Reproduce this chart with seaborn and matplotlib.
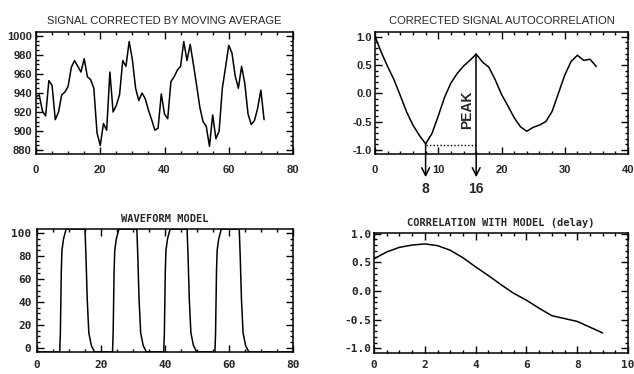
import matplotlib
matplotlib.use('Agg')
import matplotlib.pyplot as plt
import matplotlib.transforms as mtransforms
from matplotlib.ticker import AutoMinorLocator, MultipleLocator
import seaborn as sns

# --- data ---

# signal corrected by moving average (one value per sample)
sig_t = list(range(72))
sig_val = [936, 938, 921, 916, 953, 948, 912, 920, 938, 941,
           947, 967, 974, 968, 962, 976, 957, 954, 945, 898,
           885, 908, 901, 962, 920, 927, 938, 974, 968, 994,
           975, 945, 932, 940, 934, 922, 912, 901, 903, 939,
           918, 913, 952, 957, 964, 968, 994, 974, 991, 970,
           948, 925, 910, 905, 884, 917, 892, 900, 945, 967,
           990, 982, 958, 945, 968, 950, 918, 907, 911, 924,
           943, 912]

# autocorrelation of the corrected signal
lag = list(range(36))
acorr = [1.00, 0.72, 0.47, 0.24, -0.04, -0.33, -0.56, -0.74, -0.89, -0.71,
         -0.40, -0.07, 0.18, 0.35, 0.48, 0.58, 0.69, 0.55, 0.46, 0.24,
         -0.02, -0.22, -0.43, -0.59, -0.67, -0.60, -0.56, -0.50, -0.32, 0.00,
         0.32, 0.56, 0.67, 0.58, 0.60, 0.47]
min_lag, peak_lag = 8, 16

# waveform model (edge points)
wave_x = [0,
          7.1, 7.3, 7.6, 7.8, 8.3, 9.1,
          15.0, 15.3, 15.7, 16.2, 17.0, 18.0,
          23.6, 23.8, 24.1, 24.3, 24.8, 25.6,
          31.2, 31.5, 31.9, 32.4, 33.2, 34.2,
          39.6, 39.8, 40.1, 40.3, 40.8, 41.6,
          46.9, 47.2, 47.6, 48.1, 48.9, 49.9,
          55.6, 55.8, 56.1, 56.3, 56.8, 57.6,
          63.2, 63.5, 63.9, 64.4, 65.2, 66.2,
          80]
wave_y = [-3.5,
          -3.5, 13, 68, 85, 95, 103.5,
          103.5, 80, 42, 13, 2, -3.5,
          -3.5, 13, 68, 85, 95, 103.5,
          103.5, 80, 42, 13, 2, -3.5,
          -3.5, 13, 68, 85, 95, 103.5,
          103.5, 80, 42, 13, 2, -3.5,
          -3.5, 13, 68, 85, 95, 103.5,
          103.5, 80, 42, 13, 2, -3.5,
          -3.5]

# correlation with model vs delay
delay = [0, 0.5, 1, 1.5, 2, 2.5, 3, 3.5, 4, 4.5, 5, 5.5, 6, 6.5, 7, 7.5, 8, 8.5, 9]
mcorr = [0.56, 0.68, 0.76, 0.80, 0.82, 0.79, 0.71, 0.58, 0.42, 0.27,
         0.11, -0.04, -0.16, -0.30, -0.43, -0.48, -0.53, -0.63, -0.73]

# --- style ---
sns.set_style('ticks')
plt.rcParams['font.family'] = ['Liberation Sans', 'DejaVu Sans']
plt.rcParams['axes.linewidth'] = 1.1

W, H = 634, 374
fig = plt.figure(figsize=(W / 100, H / 100), dpi=100)


def box(l, r, t, b):
    return [l / W, (H - b) / H, (r - l) / W, (b - t) / H]


def idl_ticks(ax, xminor, yminor, xpad, ypad, font, size):
    ax.xaxis.set_minor_locator(AutoMinorLocator(xminor))
    ax.yaxis.set_minor_locator(AutoMinorLocator(yminor))
    ax.tick_params(which='both', direction='in', top=True, right=True,
                   width=1.0, color='black')
    ax.tick_params(which='major', length=5)
    ax.tick_params(which='minor', length=2.5)
    ax.tick_params(axis='x', pad=xpad)
    ax.tick_params(axis='y', pad=ypad)
    for lab in ax.get_xticklabels() + ax.get_yticklabels():
        lab.set_fontfamily(font)
        lab.set_fontsize(size)
        lab.set_fontweight('bold')
    for s in ax.spines.values():
        s.set_visible(True)
        s.set_color('black')
    ax.set_xlabel('')
    ax.set_ylabel('')


mono = ['DejaVu Sans Mono']
sans = ['Liberation Sans', 'DejaVu Sans']

# top left
ax1 = fig.add_axes(box(36, 293, 32, 154))
sns.lineplot(x=sig_t, y=sig_val, ax=ax1, color='black', lw=1.1,
             estimator=None, sort=False)
ax1.set_xlim(0, 80)
ax1.set_ylim(876, 1004)
ax1.xaxis.set_major_locator(MultipleLocator(20))
ax1.yaxis.set_major_locator(MultipleLocator(20))
ax1.set_title('SIGNAL CORRECTED BY MOVING AVERAGE', fontsize=8, pad=6,
              family=sans)
idl_ticks(ax1, 4, 4, 8, 3, sans, 8)

# top right
ax2 = fig.add_axes(box(375, 628, 32, 154))
sns.lineplot(x=lag, y=acorr, ax=ax2, color='black', lw=1.1,
             estimator=None, sort=False)
ax2.set_xlim(0, 40)
ax2.set_ylim(-1.07, 1.08)
ax2.xaxis.set_major_locator(MultipleLocator(10))
ax2.yaxis.set_major_locator(MultipleLocator(0.5))
ax2.yaxis.set_major_formatter(matplotlib.ticker.FormatStrFormatter('%.1f'))
ax2.set_title('CORRECTED SIGNAL AUTOCORRELATION', fontsize=8, pad=6,
              family=sans)
idl_ticks(ax2, 5, 5, 8, 2, sans, 8)

ymin = acorr[lag.index(min_lag)]
ypeak = acorr[lag.index(peak_lag)]
ax2.plot([min_lag, peak_lag], [ymin - 0.02, ymin - 0.02], ls=(0, (1, 1.5)),
         color='black', lw=1.0)
ax2.plot([peak_lag, peak_lag], [ypeak, -1.07], color='black', lw=1.1)
blend = mtransforms.blended_transform_factory(ax2.transData, ax2.transAxes)
for xl, y0 in [(min_lag, ymin), (peak_lag, -1.07)]:
    ax2.annotate('', xy=(xl, -0.19), xycoords=blend,
                 xytext=(xl, y0), textcoords='data',
                 arrowprops=dict(arrowstyle='->', color='black', lw=1.1,
                                 mutation_scale=14, shrinkA=0, shrinkB=0),
                 annotation_clip=False)
    ax2.text(xl, -0.29, str(xl), transform=blend, ha='center', va='center',
             fontsize=10, family=sans, fontweight='bold', clip_on=False)
ax2.text(14.5, -0.29, 'PEAK', rotation=90, ha='center', va='center',
         fontsize=10, family=sans, fontweight='bold')

# bottom left
ax3 = fig.add_axes(box(37, 293, 229, 352))
sns.lineplot(x=wave_x, y=wave_y, ax=ax3, color='black', lw=1.1,
             estimator=None, sort=False)
ax3.set_xlim(0, 80)
ax3.set_ylim(-3.5, 103.5)
ax3.xaxis.set_major_locator(MultipleLocator(20))
ax3.yaxis.set_major_locator(MultipleLocator(20))
ax3.set_title('WAVEFORM MODEL', fontsize=7.5, pad=5, family=mono,
              fontweight='bold')
idl_ticks(ax3, 4, 4, 6, 4, mono, 8)

# bottom right
ax4 = fig.add_axes(box(374, 628, 233, 353))
sns.lineplot(x=delay, y=mcorr, ax=ax4, color='black', lw=1.1,
             estimator=None, sort=False)
ax4.set_xlim(0, 10)
ax4.set_ylim(-1.08, 1.01)
ax4.xaxis.set_major_locator(MultipleLocator(2))
ax4.yaxis.set_major_locator(MultipleLocator(0.5))
ax4.yaxis.set_major_formatter(matplotlib.ticker.FormatStrFormatter('%.1f'))
ax4.set_title('CORRELATION WITH MODEL (delay)', fontsize=7.5, pad=5,
              family=mono, fontweight='bold')
idl_ticks(ax4, 4, 5, 5, 2, mono, 8)

fig.savefig('out.png', dpi=100, facecolor='white')
